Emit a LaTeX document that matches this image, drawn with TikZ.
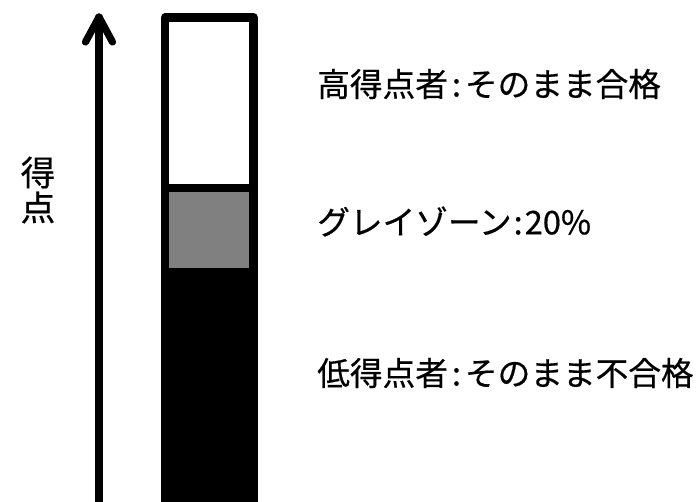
\documentclass[tikz,border=0pt]{standalone}
\usepackage{fontspec}
\newfontfamily\jp[FakeBold=0.5]{Noto Sans CJK JP}
\newcommand{\colonsep}[1]{\hspace{#1}:\hspace{#1}}
\begin{document}
\begin{tikzpicture}[x=0.75pt,y=-0.75pt,
  barline/.style={line width=6.4pt,line join=round},
  arrowline/.style={line width=5.4pt,line cap=round,line join=round},
  label/.style={inner sep=0pt,anchor=west,font=\jp\fontsize{24.5pt}{28pt}\selectfont}]
\useasboundingbox (0,0) rectangle (698,501);
% arrow
\coordinate (abot) at (99,520);
\coordinate (atop) at (99,17);
\coordinate (wl) at (85.5,42);
\coordinate (wr) at (112.5,42);
\draw[arrowline] (abot) -- (atop);
\draw[arrowline] (wl) -- (atop) -- (wr);
% bar
\fill[black] (160.5,268) rectangle (258.2,520);
\fill[black!50] (165,188) rectangle (253.5,268);
\coordinate (bl) at (165,520);
\coordinate (tl) at (165,17.5);
\coordinate (tr) at (253.5,17.5);
\coordinate (br) at (253.5,520);
\coordinate (dl) at (165,188);
\coordinate (dr) at (253.5,188);
\draw[barline] (bl) -- (tl) -- (tr) -- (br);
\draw[barline] (dl) -- (dr);
% texts
\node[label] (high) at (317,84) {高得点者\colonsep{3pt}そのまま合格};
\node[label] (gray) at (317,221.5) {グレイゾーン\colonsep{1.5pt}20\%};
\node[label] (low) at (317,373) {低得点者\colonsep{3pt}そのまま不合格};
\node[inner sep=0pt,align=center,font=\jp\fontsize{26pt}{26.25pt}\selectfont] (axis) at (38,190) {得\\点};
\end{tikzpicture}
\end{document}
